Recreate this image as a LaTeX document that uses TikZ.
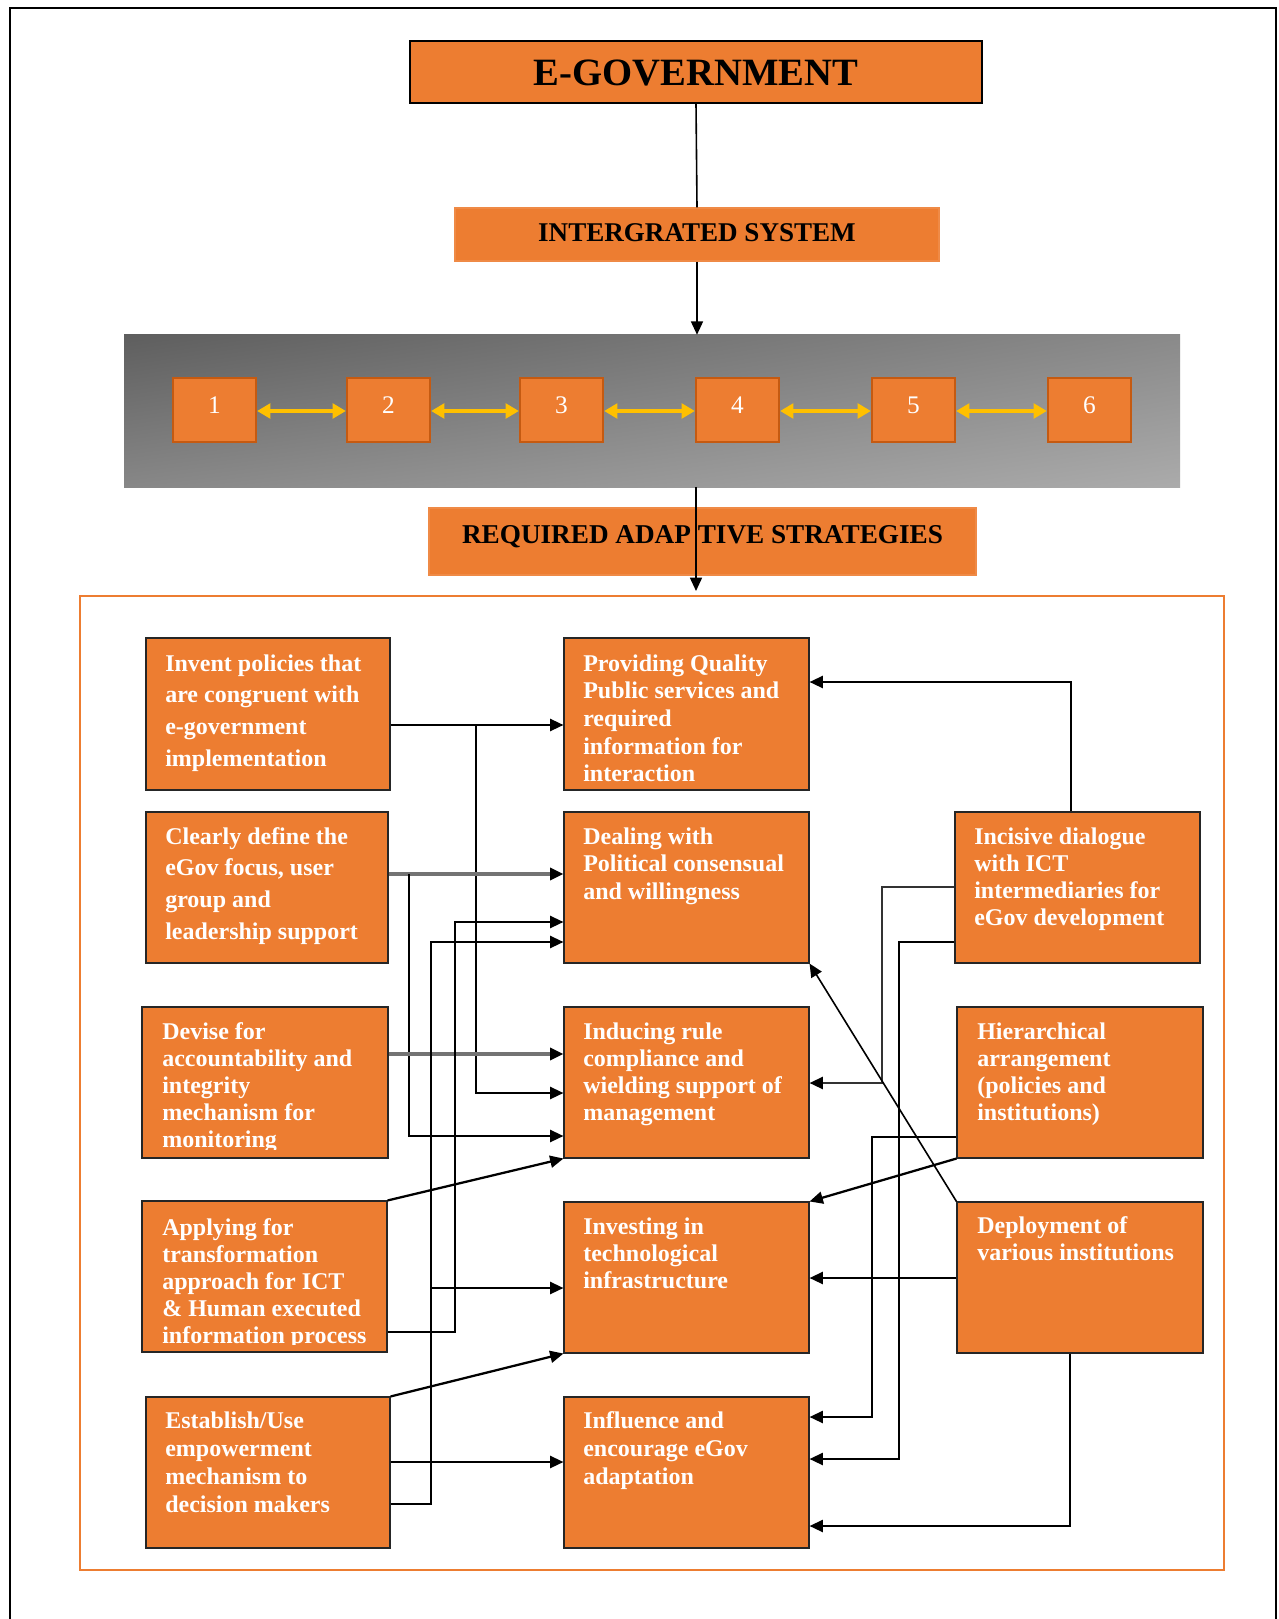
\documentclass[tikz,border=0pt]{standalone}
\usepackage{fontspec}
\setmainfont{Liberation Serif}
\usetikzlibrary{fit,arrows.meta,shadings}
\definecolor{eor}{HTML}{ED7D31}
\definecolor{eord}{HTML}{C55A11}
\definecolor{yel}{HTML}{FFC000}
\newcommand\fsA{\fontsize{18pt}{23.8pt}\selectfont}
\newcommand\fsB{\fontsize{18pt}{20.3pt}\selectfont}
\newcommand\fsC{\fontsize{18pt}{20.8pt}\selectfont}
\newcommand\fsD{\fontsize{18pt}{21pt}\selectfont}
\begin{document}
\begin{tikzpicture}[x=0.75pt,y=-0.75pt,
  box/.style={draw=black!85, line width=0.8pt, fill=eor, inner sep=0pt},
  tbox/.style={draw=eor!90!white, line width=0.8pt, fill=eor, inner sep=0pt},
  nbox/.style={draw=eord, line width=1.6pt, fill=eor, inner sep=0pt},
  ttl/.style={anchor=base, inner sep=0pt, text=black, font=\bfseries},
  numt/.style={anchor=base, inner sep=0pt, text=white, font=\fontsize{19pt}{20pt}\selectfont},
  btxt/.style={anchor=base west, inner sep=0pt, text=white, font=\bfseries},
  tip/.style={-{Triangle[length=10pt,width=9pt,color=black]}},
  arr/.style={draw=black, line width=1.7pt, tip},
  garr/.style={draw=black!55, line width=2.5pt, tip},
  yarr/.style={draw=yel, line width=3pt, {Triangle[length=10pt,width=11pt]}-{Triangle[length=10pt,width=11pt]}},
  thinarr/.style={draw=black, line width=1.2pt, tip},
]
\useasboundingbox (0,0) rectangle (1278,1619);
\fill[white] (0,0) rectangle (1278,1619);
% outer frame
\draw[line width=1.9pt] (10,1619) -- (10,8) -- (1276,8) -- (1276,1619);

% top part
\node[tbox, draw=black, line width=1.2pt, fit={(410,41)(982,103)}] (eg) {};
\node[ttl, font=\bfseries\fontsize{29pt}{30pt}\selectfont] (egt) at (696,86) {E-GOVERNMENT};
\node[tbox, fit={(455,208)(939,261)}] (ig) {};
\node[ttl, font=\bfseries\fontsize{20.3pt}{22pt}\selectfont] (igt) at (697,242) {INTERGRATED SYSTEM};
\node[inner sep=0pt, fit={(124,335)(1180,487)}, upper left=black!63, upper right=black!46, lower left=black!47, lower right=black!33, shade] (panel) {};
\draw[line width=1.2pt] (eg.south) -- (ig.north);
\draw[thinarr] (ig.south) -- (ig.south |- panel.north);

% numbered boxes
\node[nbox, fit={(173,378)(256,442)}] (n1) {};
\node[nbox, fit={(347,378)(430,442)}] (n2) {};
\node[nbox, fit={(520,378)(603,442)}] (n3) {};
\node[nbox, fit={(696,378)(779,442)}] (n4) {};
\node[nbox, fit={(872,378)(955,442)}] (n5) {};
\node[nbox, fit={(1048,378)(1131,442)}] (n6) {};
\node[numt] (n1t) at (214.5,413) {1};
\node[numt] (n2t) at (388.5,413) {2};
\node[numt] (n3t) at (561.5,413) {3};
\node[numt] (n4t) at (737.5,413) {4};
\node[numt] (n5t) at (913.5,413) {5};
\node[numt] (n6t) at (1089.5,413) {6};
\draw[yarr] (n1.east |- 0,411) -- (n2.west |- 0,411);
\draw[yarr] (n2.east |- 0,411) -- (n3.west |- 0,411);
\draw[yarr] (n3.east |- 0,411) -- (n4.west |- 0,411);
\draw[yarr] (n4.east |- 0,411) -- (n5.west |- 0,411);
\draw[yarr] (n5.east |- 0,411) -- (n6.west |- 0,411);

\node[tbox, fit={(429,508)(976,575)}] (rq) {};
\node[ttl, font=\bfseries\fontsize{20.4pt}{22pt}\selectfont] (rqt) at (702.5,543) {REQUIRED ADAP TIVE STRATEGIES};
\coordinate (ftop) at (696,591);
\draw[thinarr] (panel.south -| eg.south) -- (ftop);

% orange frame
\node[draw=eor, line width=1.1pt, inner sep=0pt, fit={(80,596)(1224,1570)}] (frame) {};

% lower boxes
\node[box, fit={(146,638)(390,790)}] (L1) {};
\node[box, fit={(146,812)(388,963)}] (L2) {};
\node[box, fit={(142,1007)(388,1158)}] (L3) {};
\node[box, fit={(142,1201)(387,1352)}] (L4) {};
\node[box, fit={(146,1397)(390,1548)}] (L5) {};
\node[box, fit={(564,638)(809,790)}] (M1) {};
\node[box, fit={(564,812)(809,963)}] (M2) {};
\node[box, fit={(564,1007)(809,1158)}] (M3) {};
\node[box, fit={(564,1202)(809,1353)}] (M4) {};
\node[box, fit={(564,1397)(809,1548)}] (M5) {};
\node[box, fit={(955,812)(1200,963)}] (R1) {};
\node[box, fit={(957,1007)(1203,1158)}] (R2) {};
\node[box, fit={(957,1202)(1203,1353)}] (R3) {};

% texts
\node[btxt] (L1t) at (165,671) {\parbox[t]{300pt}{\fsA Invent policies that\\are congruent with\\e-government\\implementation}};
\node[btxt] (L2t) at (165,844) {\parbox[t]{300pt}{\fsA Clearly define the\\eGov focus, user\\group and\\leadership support}};
\begin{scope}
\clip (142,1007) rectangle (388,1149);
\node[btxt] (L3t) at (162,1039) {\parbox[t]{300pt}{\fsB Devise for\\accountability and\\integrity\\mechanism for\\monitoring}};
\end{scope}
\begin{scope}
\clip (142,1201) rectangle (387,1344);
\node[btxt] (L4t) at (162,1235) {\parbox[t]{300pt}{\fsB Applying for\\transformation\\approach for ICT\\\& Human executed\\information process}};
\end{scope}
\node[btxt] (L5t) at (165,1428) {\parbox[t]{300pt}{\fsD Establish/Use\\empowerment\\mechanism to\\decision makers}};
\node[btxt] (M1t) at (583,671) {\parbox[t]{300pt}{\fsC Providing Quality\\Public services and\\required\\information for\\interaction}};
\node[btxt] (M2t) at (583,844) {\parbox[t]{300pt}{\fsC Dealing with\\Political consensual\\and willingness}};
\node[btxt] (M3t) at (583,1039) {\parbox[t]{300pt}{\fsB Inducing rule\\compliance and\\wielding support of\\management}};
\node[btxt] (M4t) at (583,1234) {\parbox[t]{300pt}{\fsB Investing in\\technological\\infrastructure}};
\node[btxt] (M5t) at (583,1428) {\parbox[t]{300pt}{\fsD Influence and\\encourage eGov\\adaptation}};
\node[btxt] (R1t) at (974,844) {\parbox[t]{300pt}{\fsB Incisive dialogue\\with ICT\\intermediaries for\\eGov development}};
\node[btxt] (R2t) at (977,1039) {\parbox[t]{300pt}{\fsB Hierarchical\\arrangement\\(policies and\\institutions)}};
\node[btxt] (R3t) at (977,1233) {\parbox[t]{300pt}{\fsB Deployment of\\various institutions}};

% connectors left side
\draw[arr] (L1.east |- 0,725) -- (M1.west |- 0,725);
\draw[arr] (476,725) -- (476,1093) -- (M3.west |- 0,1093);
\draw[garr] (L2.east |- 0,874) -- (M2.west |- 0,874);
\draw[arr] (409,874) -- (409,1136) -- (M3.west |- 0,1136);
\draw[garr] (L3.east |- 0,1054) -- (M3.west |- 0,1054);
\draw[arr] (L4.east |- 0,1332) -- (455,1332) -- (455,922) -- (M2.west |- 0,922);
\draw[arr] (L5.east |- 0,1504) -- (431,1504) -- (431,942) -- (M2.west |- 0,942);
\draw[arr] (431,1288) -- (M4.west |- 0,1288);
\draw[arr] (L5.east |- 0,1462) -- (M5.west |- 0,1462);
\draw[arr] (L4.north east) -- (M3.south west);
\draw[arr] (L5.north east) -- (M4.south west);

% connectors right side
\draw[arr] (R1.north -| 1071,0) -- (1071,682) -- (M1.east |- 0,682);
\draw[arr, draw=black!80] (R1.west |- 0,887) -- (882,887) -- (882,1083) -- (M3.east |- 0,1083);
\draw[arr] (R1.west |- 0,942) -- (899,942) -- (899,1459) -- (M5.east |- 0,1459);
\draw[arr] (R2.west |- 0,1137) -- (872,1137) -- (872,1417) -- (M5.east |- 0,1417);
\draw[arr] (R2.south west) -- (M4.north east);
\draw[thinarr] (R3.north west) -- (M2.south east);
\draw[arr] (R3.west |- 0,1278) -- (M4.east |- 0,1278);
\draw[arr] (R3.south -| 1070,0) -- (1070,1526) -- (M5.east |- 0,1526);
\end{tikzpicture}
\end{document}
